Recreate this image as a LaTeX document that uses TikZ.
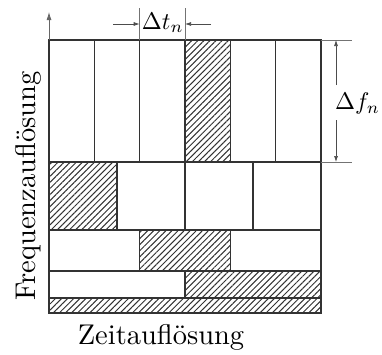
\documentclass[tikz,border=0pt]{standalone}
\usetikzlibrary{patterns.meta,arrows.meta}
\begin{document}
\begin{tikzpicture}[x=1pt,y=-1pt,
  boxline/.style={draw=black!80,line width=1.2pt},
  hatch/.style={pattern={Lines[angle=45,distance=4.3pt,line width=1pt]},pattern color=black!80},
  extline/.style={draw=black!55,line width=0.7pt},
  dimarrow/.style={draw=black!70,line width=0.7pt,-{Latex[length=6pt,width=4pt]}},
  axarrow/.style={draw=black!60,line width=0.8pt,-{Latex[length=8pt,width=5pt]}},
  axlabel/.style={scale=2.85,anchor=base,inner sep=0pt},
  dimlabel/.style={scale=2.4,anchor=base,inner sep=0pt}]
\useasboundingbox (0,0) rectangle (382,354);
% hatched cells
\path[hatch] (185,40) rectangle (230.33,162);
\path[hatch] (49,162) rectangle (117,230);
\path[hatch] (139.67,230) rectangle (230.33,271);
\path[hatch] (185,271) rectangle (321,298);
\path[hatch] (49,298) rectangle (321,313);
% grid
\draw[boxline] (49,40) rectangle (321,313);
\foreach \yy in {162,230,271,298} \draw[boxline] (49,\yy) -- (321,\yy);
\foreach \xx in {94.33,139.67,185,230.33,275.67} \draw[boxline] (\xx,40) -- (\xx,162);
\foreach \xx in {117,185,253} \draw[boxline] (\xx,162) -- (\xx,230);
\foreach \xx in {139.67,230.33} \draw[boxline] (\xx,230) -- (\xx,271);
\draw[boxline] (185,271) -- (185,298);
% coordinates
\coordinate (o) at (49,40);
\coordinate (otop) at (49,12);
\coordinate (tl) at (139.67,40);
\coordinate (tr) at (185,40);
\coordinate (tlu) at (139.67,8);
\coordinate (tru) at (185,8);
\coordinate (ft) at (321,40);
\coordinate (fb) at (321,162);
\coordinate (fte) at (352,40);
\coordinate (fbe) at (352,162);
\coordinate (al0) at (113,24);
\coordinate (al1) at (139.67,24);
\coordinate (ar0) at (211,24);
\coordinate (ar1) at (185,24);
\coordinate (fa0) at (336,85);
\coordinate (fa1) at (336,40);
\coordinate (fb0) at (336,120);
\coordinate (fb1) at (336,162);
% axis and extension lines
\draw[axarrow] (o) -- (otop);
\draw[extline] (tl) -- (tlu);
\draw[extline] (tr) -- (tru);
\draw[extline] (ft) -- (fte);
\draw[extline] (fb) -- (fbe);
% dimension arrows
\draw[dimarrow] (al0) -- (al1);
\draw[dimarrow] (ar0) -- (ar1);
\draw[dimarrow] (fa0) -- (fa1);
\draw[dimarrow] (fb0) -- (fb1);
% labels
\node[dimlabel] (dt) at (162.7,29) {$\Delta t_n$};
\node[dimlabel] (df) at (357.5,109.5) {$\Delta f_n$};
\node[axlabel] (zt) at (161,344) {Zeitauflösung};
\node[axlabel,rotate=90] (fq) at (35,186) {Frequenzauflösung};
\end{tikzpicture}
\end{document}
